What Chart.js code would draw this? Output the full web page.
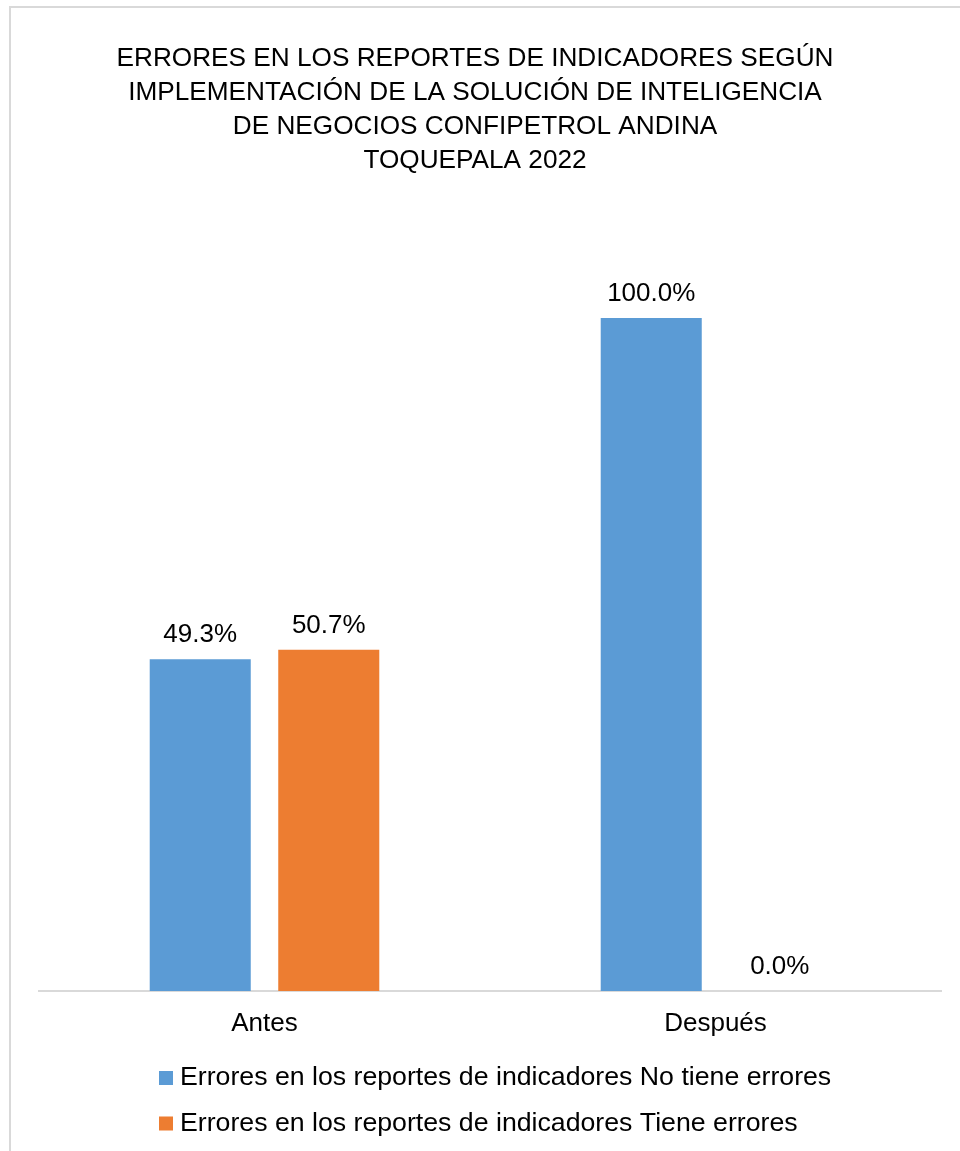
<!DOCTYPE html>
<html>
<head>
<meta charset="utf-8">
<script src="https://cdn.jsdelivr.net/npm/chart.js@4"></script>
<style>
  html, body { margin: 0; padding: 0; background: #fff; }
  #wrap { width: 960px; height: 1151px; position: relative; }
</style>
</head>
<body>
<div id="wrap"><canvas id="myChart" width="960" height="1151"></canvas></div>
<script>
// data
const categories = ['Antes', 'Después'];
const seriesNames = [
  'Errores en los reportes de indicadores No tiene errores',
  'Errores en los reportes de indicadores Tiene errores'
];
const noErrors = [49.3, 100.0];
const hasErrors = [50.7, 0.0];
const seriesColors = ['#5B9BD5', '#ED7D31'];
const titleLines = [
  'ERRORES EN LOS REPORTES DE INDICADORES SEGÚN',
  'IMPLEMENTACIÓN DE LA SOLUCIÓN DE INTELIGENCIA',
  'DE NEGOCIOS CONFIPETROL ANDINA',
  'TOQUEPALA 2022'
];

const FONT = "'Liberation Sans', Arial, sans-serif";

// light grey frame like the excel chart area
const framePlugin = {
  id: 'frame',
  beforeDraw(chart) {
    const ctx = chart.ctx;
    ctx.save();
    ctx.fillStyle = '#fff';
    ctx.fillRect(0, 0, chart.width, chart.height);
    ctx.strokeStyle = '#d9d9d9';
    ctx.lineWidth = 2;
    ctx.strokeRect(10, 7, 1000, 1200);
    ctx.restore();
  }
};

// value labels above the bars
const valueLabels = {
  id: 'valueLabels',
  afterDatasetsDraw(chart) {
    const ctx = chart.ctx;
    ctx.save();
    ctx.font = '26px ' + FONT;
    ctx.fillStyle = '#000';
    ctx.textAlign = 'center';
    ctx.textBaseline = 'alphabetic';
    chart.data.datasets.forEach((ds, i) => {
      chart.getDatasetMeta(i).data.forEach((bar, j) => {
        ctx.fillText(ds.data[j].toFixed(1) + '%', bar.x, bar.y - 17);
      });
    });
    ctx.restore();
  }
};

// stacked legend, items left aligned as in excel
const stackedLegend = {
  id: 'stackedLegend',
  afterDraw(chart) {
    const ctx = chart.ctx;
    ctx.save();
    ctx.font = '26.7px ' + FONT;
    ctx.textBaseline = 'middle';
    ctx.textAlign = 'left';
    chart.data.datasets.forEach((ds, i) => {
      const y = 1077 + i * 45.5;
      ctx.fillStyle = ds.backgroundColor;
      ctx.fillRect(159, y - 6, 14, 14);
      ctx.fillStyle = '#000';
      ctx.fillText(ds.label, 180, y + 1);
    });
    ctx.restore();
  }
};

const ctx = document.getElementById('myChart').getContext('2d');
const myChart = new Chart(ctx, {
  type: 'bar',
  data: {
    labels: categories,
    datasets: [
      { label: seriesNames[0], data: noErrors, backgroundColor: seriesColors[0] },
      { label: seriesNames[1], data: hasErrors, backgroundColor: seriesColors[1] }
    ]
  },
  options: {
    responsive: false,
    animation: false,
    events: [],
    categoryPercentage: 0.57,
    barPercentage: 0.786,
    layout: { padding: { left: 9, right: 19, top: 0, bottom: 0 } },
    plugins: {
      legend: { display: false },
      tooltip: { enabled: false },
      title: {
        display: true,
        text: titleLines,
        color: '#000',
        font: { family: FONT, size: 26.2, weight: 'normal', lineHeight: 1.29 },
        padding: { top: 42, bottom: 6.2 }
      }
    },
    scales: {
      x: {
        grid: { display: false, drawTicks: false },
        border: { display: true, color: '#d9d9d9', width: 2 },
        ticks: { color: '#000', padding: 17, font: { family: FONT, size: 26 } },
        afterFit(scale) { scale.height = 160; }
      },
      y: {
        min: 0,
        max: 120,
        grid: { display: false, drawTicks: false },
        border: { display: false },
        ticks: { display: false },
        afterFit(scale) { scale.width = 30; }
      }
    }
  },
  plugins: [framePlugin, valueLabels, stackedLegend]
});
</script>
</body>
</html>
